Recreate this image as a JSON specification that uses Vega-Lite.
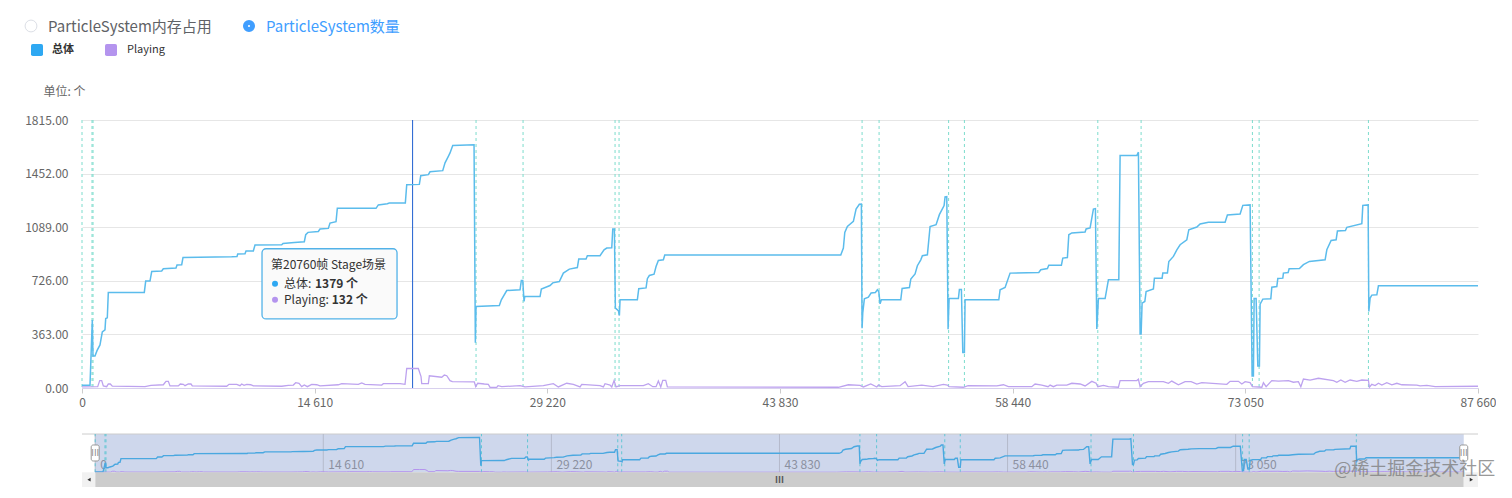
{
  "$schema": "https://vega.github.io/schema/vega-lite/v6.json",
  "padding": {"left": 23, "top": 0, "right": 0, "bottom": 0},
  "spacing": 0,
  "bounds": "flush",
  "config": {"view": {"stroke": null}, "font": "Noto Sans CJK SC"},
  "datasets": {
    "total": [
      {"frame":0,"count":18},{"frame":502,"count":18},{"frame":647,"count":461},{"frame":691,"count":217},{"frame":816,"count":217},{"frame":942,"count":253},{"frame":1130,"count":292},{"frame":1275,"count":380},{"frame":1444,"count":394},{"frame":1488,"count":470},{"frame":1589,"count":475},{"frame":1652,"count":647},{"frame":3912,"count":647},{"frame":4000,"count":724},{"frame":4270,"count":724},{"frame":4377,"count":789},{"frame":5005,"count":792},{"frame":5106,"count":807},{"frame":5903,"count":812},{"frame":5966,"count":833},{"frame":6261,"count":835},{"frame":6343,"count":884},{"frame":9401,"count":889},{"frame":9734,"count":891},{"frame":9778,"count":907},{"frame":10236,"count":909},{"frame":10299,"count":928},{"frame":10758,"count":928},{"frame":10864,"count":968},{"frame":12541,"count":970},{"frame":12623,"count":979},{"frame":13332,"count":986},{"frame":13960,"count":991},{"frame":14048,"count":1038},{"frame":14193,"count":1054},{"frame":14840,"count":1060},{"frame":14946,"count":1077},{"frame":15468,"count":1081},{"frame":15574,"count":1117},{"frame":15951,"count":1126},{"frame":16033,"count":1217},{"frame":18463,"count":1217},{"frame":18607,"count":1240},{"frame":19173,"count":1248},{"frame":19298,"count":1253},{"frame":20303,"count":1253},{"frame":20391,"count":1377},{"frame":21183,"count":1379},{"frame":21271,"count":1438},{"frame":21748,"count":1445},{"frame":21854,"count":1464},{"frame":22652,"count":1472},{"frame":22796,"count":1525},{"frame":23004,"count":1569},{"frame":23110,"count":1592},{"frame":23280,"count":1642},{"frame":24618,"count":1647},{"frame":24700,"count":307},{"frame":24743,"count":552},{"frame":26206,"count":558},{"frame":26332,"count":597},{"frame":26671,"count":660},{"frame":27506,"count":665},{"frame":27588,"count":728},{"frame":27676,"count":728},{"frame":27758,"count":586},{"frame":27802,"count":619},{"frame":28762,"count":619},{"frame":28844,"count":670},{"frame":29390,"count":694},{"frame":29560,"count":712},{"frame":29974,"count":721},{"frame":30226,"count":778},{"frame":30602,"count":805},{"frame":31105,"count":816},{"frame":31193,"count":873},{"frame":31651,"count":873},{"frame":31733,"count":896},{"frame":32530,"count":896},{"frame":32782,"count":936},{"frame":32952,"count":948},{"frame":33266,"count":950},{"frame":33329,"count":1077},{"frame":33430,"count":1077},{"frame":33493,"count":541},{"frame":33681,"count":524},{"frame":33744,"count":491},{"frame":33786,"count":597},{"frame":34873,"count":597},{"frame":34961,"count":672},{"frame":35419,"count":678},{"frame":35501,"count":740},{"frame":35626,"count":762},{"frame":35922,"count":771},{"frame":36047,"count":823},{"frame":36192,"count":864},{"frame":36506,"count":868},{"frame":36594,"count":900},{"frame":47646,"count":900},{"frame":47810,"count":948},{"frame":47898,"count":1054},{"frame":48061,"count":1094},{"frame":48438,"count":1128},{"frame":48607,"count":1212},{"frame":48814,"count":1244},{"frame":48940,"count":1246},{"frame":48984,"count":405},{"frame":49028,"count":511},{"frame":49128,"count":604},{"frame":49380,"count":615},{"frame":49549,"count":643},{"frame":49819,"count":647},{"frame":49945,"count":665},{"frame":50033,"count":653},{"frame":50114,"count":570},{"frame":50196,"count":597},{"frame":51414,"count":597},{"frame":51498,"count":674},{"frame":51956,"count":680},{"frame":52044,"count":738},{"frame":52312,"count":773},{"frame":52456,"count":828},{"frame":52670,"count":868},{"frame":52771,"count":896},{"frame":53085,"count":902},{"frame":53254,"count":1094},{"frame":53631,"count":1106},{"frame":53838,"count":1174},{"frame":54134,"count":1235},{"frame":54196,"count":1294},{"frame":54303,"count":1296},{"frame":54385,"count":398},{"frame":54448,"count":606},{"frame":55032,"count":606},{"frame":55095,"count":667},{"frame":55221,"count":667},{"frame":55309,"count":240},{"frame":55410,"count":240},{"frame":55452,"count":597},{"frame":57569,"count":597},{"frame":57650,"count":665},{"frame":57964,"count":681},{"frame":58278,"count":778},{"frame":60081,"count":782},{"frame":60206,"count":801},{"frame":60621,"count":809},{"frame":60709,"count":832},{"frame":61500,"count":832},{"frame":61588,"count":880},{"frame":61877,"count":884},{"frame":61965,"count":1038},{"frame":62153,"count":1050},{"frame":62988,"count":1056},{"frame":63051,"count":1077},{"frame":63302,"count":1084},{"frame":63510,"count":1212},{"frame":63636,"count":1215},{"frame":63724,"count":400},{"frame":63824,"count":606},{"frame":64244,"count":606},{"frame":64452,"count":733},{"frame":65105,"count":733},{"frame":65186,"count":1574},{"frame":66235,"count":1574},{"frame":66336,"count":1597},{"frame":66442,"count":366},{"frame":66505,"count":366},{"frame":66568,"count":575},{"frame":66738,"count":586},{"frame":66819,"count":653},{"frame":67277,"count":670},{"frame":67340,"count":744},{"frame":67824,"count":744},{"frame":67868,"count":778},{"frame":68157,"count":778},{"frame":68245,"count":857},{"frame":68534,"count":891},{"frame":68748,"count":936},{"frame":68955,"count":970},{"frame":69376,"count":1004},{"frame":69501,"count":1072},{"frame":70004,"count":1090},{"frame":70211,"count":1111},{"frame":70733,"count":1122},{"frame":71780,"count":1122},{"frame":71924,"count":1172},{"frame":72722,"count":1178},{"frame":72892,"count":1237},{"frame":73350,"count":1240},{"frame":73476,"count":81},{"frame":73558,"count":81},{"frame":73602,"count":606},{"frame":73727,"count":606},{"frame":73834,"count":149},{"frame":73934,"count":149},{"frame":73978,"count":568},{"frame":74148,"count":602},{"frame":74650,"count":604},{"frame":74713,"count":683},{"frame":75027,"count":687},{"frame":75090,"count":742},{"frame":75404,"count":744},{"frame":75442,"count":778},{"frame":75737,"count":782},{"frame":75800,"count":807},{"frame":76447,"count":809},{"frame":76698,"count":835},{"frame":77075,"count":857},{"frame":78060,"count":868},{"frame":78167,"count":936},{"frame":78437,"count":999},{"frame":78751,"count":1004},{"frame":78833,"count":1063},{"frame":79335,"count":1067},{"frame":79423,"count":1088},{"frame":80365,"count":1113},{"frame":80428,"count":1237},{"frame":80761,"count":1240},{"frame":80805,"count":518},{"frame":80886,"count":609},{"frame":80993,"count":629},{"frame":81307,"count":631},{"frame":81408,"count":692},{"frame":87660,"count":692}
    ],
    "playing": [
      {"frame":0,"count":7},{"frame":986,"count":9},{"frame":1112,"count":50},{"frame":1237,"count":50},{"frame":1338,"count":14},{"frame":1551,"count":9},{"frame":1652,"count":27},{"frame":1777,"count":27},{"frame":1903,"count":12},{"frame":3956,"count":9},{"frame":4333,"count":18},{"frame":5106,"count":22},{"frame":5275,"count":45},{"frame":5420,"count":45},{"frame":5526,"count":14},{"frame":6048,"count":14},{"frame":6173,"count":27},{"frame":6362,"count":25},{"frame":6468,"count":16},{"frame":6676,"count":27},{"frame":6845,"count":27},{"frame":6927,"count":14},{"frame":9087,"count":12},{"frame":9232,"count":25},{"frame":9715,"count":25},{"frame":9922,"count":16},{"frame":10029,"count":27},{"frame":10174,"count":18},{"frame":10343,"count":25},{"frame":10594,"count":22},{"frame":10758,"count":14},{"frame":12541,"count":12},{"frame":12956,"count":18},{"frame":13270,"count":20},{"frame":13420,"count":36},{"frame":13628,"count":32},{"frame":13797,"count":9},{"frame":13960,"count":20},{"frame":14148,"count":9},{"frame":14425,"count":25},{"frame":14739,"count":22},{"frame":14946,"count":14},{"frame":16095,"count":22},{"frame":16309,"count":29},{"frame":17352,"count":25},{"frame":17565,"count":34},{"frame":17772,"count":25},{"frame":18821,"count":20},{"frame":18922,"count":29},{"frame":19970,"count":29},{"frame":20284,"count":25},{"frame":20391,"count":132},{"frame":20760,"count":132},{"frame":21119,"count":132},{"frame":21289,"count":77},{"frame":21333,"count":29},{"frame":21748,"count":29},{"frame":21811,"count":83},{"frame":22590,"count":73},{"frame":22753,"count":88},{"frame":22904,"count":83},{"frame":23110,"count":50},{"frame":23255,"count":43},{"frame":24636,"count":41},{"frame":24724,"count":9},{"frame":24850,"count":32},{"frame":25264,"count":27},{"frame":25516,"count":25},{"frame":25622,"count":5},{"frame":26043,"count":4},{"frame":26125,"count":16},{"frame":26357,"count":9},{"frame":27506,"count":16},{"frame":27820,"count":7},{"frame":28969,"count":16},{"frame":29597,"count":29},{"frame":29911,"count":7},{"frame":30439,"count":32},{"frame":30853,"count":25},{"frame":31274,"count":7},{"frame":31381,"count":25},{"frame":32530,"count":16},{"frame":32738,"count":7},{"frame":32844,"count":29},{"frame":33158,"count":20},{"frame":33266,"count":7},{"frame":33410,"count":50},{"frame":33535,"count":7},{"frame":33786,"count":16},{"frame":35250,"count":16},{"frame":35564,"count":29},{"frame":35840,"count":9},{"frame":36047,"count":9},{"frame":36192,"count":47},{"frame":36342,"count":7},{"frame":36468,"count":52},{"frame":36656,"count":52},{"frame":36757,"count":7},{"frame":47496,"count":5},{"frame":48124,"count":22},{"frame":48858,"count":18},{"frame":49066,"count":7},{"frame":49530,"count":27},{"frame":49907,"count":7},{"frame":50008,"count":20},{"frame":50221,"count":9},{"frame":51370,"count":16},{"frame":51684,"count":43},{"frame":51873,"count":9},{"frame":52733,"count":20},{"frame":53443,"count":9},{"frame":54088,"count":25},{"frame":54339,"count":20},{"frame":54448,"count":9},{"frame":55346,"count":5},{"frame":55641,"count":16},{"frame":57443,"count":14},{"frame":57858,"count":22},{"frame":58172,"count":9},{"frame":59641,"count":9},{"frame":59848,"count":27},{"frame":60269,"count":20},{"frame":60665,"count":9},{"frame":60790,"count":20},{"frame":60998,"count":9},{"frame":61211,"count":20},{"frame":61839,"count":20},{"frame":62153,"count":32},{"frame":62674,"count":27},{"frame":62988,"count":14},{"frame":63410,"count":45},{"frame":63680,"count":32},{"frame":63786,"count":9},{"frame":64138,"count":18},{"frame":64452,"count":9},{"frame":65080,"count":5},{"frame":65186,"count":50},{"frame":66235,"count":50},{"frame":66336,"count":59},{"frame":66442,"count":9},{"frame":66650,"count":32},{"frame":66964,"count":43},{"frame":67905,"count":43},{"frame":68219,"count":32},{"frame":68432,"count":47},{"frame":68847,"count":22},{"frame":69268,"count":43},{"frame":69645,"count":43},{"frame":70004,"count":27},{"frame":70318,"count":36},{"frame":71887,"count":25},{"frame":72094,"count":45},{"frame":72616,"count":45},{"frame":72830,"count":27},{"frame":73037,"count":43},{"frame":73350,"count":36},{"frame":73495,"count":9},{"frame":74086,"count":5},{"frame":74186,"count":36},{"frame":74355,"count":9},{"frame":74713,"count":50},{"frame":75128,"count":47},{"frame":75756,"count":50},{"frame":76070,"count":39},{"frame":76384,"count":43},{"frame":76535,"count":9},{"frame":76698,"count":61},{"frame":77118,"count":54},{"frame":77639,"count":66},{"frame":78582,"count":50},{"frame":78795,"count":39},{"frame":79046,"count":54},{"frame":79316,"count":39},{"frame":79630,"count":54},{"frame":80051,"count":45},{"frame":80365,"count":54},{"frame":80780,"count":52},{"frame":80842,"count":5},{"frame":80993,"count":25},{"frame":81200,"count":16},{"frame":81408,"count":32},{"frame":81621,"count":20},{"frame":81935,"count":36},{"frame":82249,"count":22},{"frame":82563,"count":32},{"frame":82877,"count":22},{"frame":83820,"count":20},{"frame":84027,"count":14},{"frame":84448,"count":18},{"frame":84969,"count":9},{"frame":87660,"count":12}
    ],
    "scenes": [
      {"frame":0},{"frame":628},{"frame":691},{"frame":24743},{"frame":27695},{"frame":33472},{"frame":33724},{"frame":48984},{"frame":50052},{"frame":54418},{"frame":55410},{"frame":63786},{"frame":66505},{"frame":73495},{"frame":73916},{"frame":80780}
    ],
    "ticks": [
      {"frame":0,"label":"0"},{"frame":14610,"label":"14 610"},{"frame":29220,"label":"29 220"},{"frame":43830,"label":"43 830"},{"frame":58440,"label":"58 440"},{"frame":73050,"label":"73 050"}
    ],
    "hover": [{"frame":20760,"scene":"Stage场景","total":1379,"playing":132}],
    "one": [{"part":"zoom"}]
  },
  "vconcat": [
    {
      "width": 1396,
      "height": 38,
      "data": {"values": [{"mode":"ParticleSystem内存占用","on":false},{"mode":"ParticleSystem数量","on":true}]},
      "encoding": {
        "x": {"field":"mode","type":"nominal","axis":null,"scale":{"type":"point","padding":0,"domain":["ParticleSystem内存占用","ParticleSystem数量"],"range":[-51,167]}},
        "y": {"value":26}
      },
      "layer": [
        {
          "mark": {"type":"point","filled":false,"fill":"#ffffff","opacity":1},
          "encoding": {
            "size": {"condition":{"test":"datum.on","value":50},"value":140},
            "stroke": {"condition":{"test":"datum.on","value":"#409eff"},"value":"#dcdfe6"},
            "strokeWidth": {"condition":{"test":"datum.on","value":5},"value":1}
          }
        },
        {
          "mark": {"type":"text","align":"left","baseline":"middle","dx":17,"dy":1,"fontSize":15},
          "encoding": {
            "text": {"field":"mode"},
            "color": {"condition":{"test":"datum.on","value":"#409eff"},"value":"#606266"}
          }
        }
      ]
    },
    {
      "width": 1396,
      "height": 82,
      "data": {"values": [{"series":"总体"},{"series":"Playing"}]},
      "encoding": {
        "x": {"field":"series","type":"nominal","axis":null,"scale":{"type":"point","padding":0,"domain":["总体","Playing"],"range":[-45,29]}},
        "y": {"value":12}
      },
      "layer": [
        {
          "mark": {"type":"point","filled":true,"opacity":1,"size":144,"shape":"M-0.7,-1H0.7Q1,-1 1,-0.7V0.7Q1,1 0.7,1H-0.7Q-1,1 -1,0.7V-0.7Q-1,-1 -0.7,-1Z"},
          "encoding": {
            "color": {"field":"series","legend":null,"scale":{"domain":["总体","Playing"],"range":["#2ea8f2","#b494ee"]}}
          }
        },
        {
          "transform": [{"filter":"datum.series == '总体'"}],
          "mark": {"type":"text","align":"left","baseline":"middle","dx":15,"fontSize":11,"fontWeight":"bold","color":"#333333"},
          "encoding": {"text": {"field":"series"}}
        },
        {
          "transform": [{"filter":"datum.series == 'Playing'"}],
          "mark": {"type":"text","align":"left","baseline":"middle","dx":16,"fontSize":11,"color":"#333333"},
          "encoding": {"text": {"field":"series"}}
        }
      ]
    },
    {
      "width": 1396,
      "height": 268,
      "encoding": {
        "x": {
          "type": "quantitative",
          "scale": {"domain":[0,87660],"nice":false,"zero":false},
          "axis": {"values":[0,14610,29220,43830,58440,73050,87660],"title":null,"grid":false,"domainColor":"#d8d0ee","tickColor":"#cccccc","tickSize":5,"labelColor":"#666666","labelFontSize":12,"labelPadding":4,"labelBound":false,"labelFlush":false,"labelExpr":"replace(format(datum.value, ','), ',', ' ')"}
        },
        "y": {
          "type": "quantitative",
          "scale": {"domain":[0,1815],"nice":false},
          "axis": {"values":[0,363,726,1089,1452,1815],"format":".2f","title":"单位: 个","titleAngle":0,"titleX":-39,"titleY":-29,"titleAlign":"left","titleBaseline":"middle","titleFontWeight":"normal","titleFontSize":12,"titleColor":"#666666","grid":true,"gridColor":"#e6e6e6","domain":false,"ticks":false,"labelPadding":14,"labelColor":"#666666","labelFontSize":12}
        }
      },
      "layer": [
        {
          "data": {"name":"scenes"},
          "mark": {"type":"rule","color":"#7ddccd","strokeWidth":1,"strokeDash":[3,3]},
          "encoding": {"x":{"field":"frame","type":"quantitative"}}
        },
        {
          "data": {"name":"hover"},
          "mark": {"type":"rule","color":"#1f5fd0","strokeWidth":1},
          "encoding": {"x":{"field":"frame","type":"quantitative"}}
        },
        {
          "data": {"name":"playing"},
          "mark": {"type":"line","color":"#bda2ef","strokeWidth":1.3,"interpolate":"linear"},
          "encoding": {"x":{"field":"frame","type":"quantitative"},"y":{"field":"count","type":"quantitative"}}
        },
        {
          "data": {"name":"total"},
          "mark": {"type":"line","color":"#5bbcec","strokeWidth":1.5,"interpolate":"linear"},
          "encoding": {"x":{"field":"frame","type":"quantitative"},"y":{"field":"count","type":"quantitative"}}
        },
        {
          "data": {"name":"hover"},
          "mark": {"type":"rect","fill":"#fafafa","stroke":"#52b2e8","strokeWidth":1.3,"cornerRadius":4},
          "encoding": {"x":{"datum":11304},"x2":{"datum":19782},"y":{"datum":943},"y2":{"datum":468}}
        },
        {
          "data": {"name":"hover"},
          "mark": {"type":"text","align":"left","baseline":"middle","fontSize":12,"color":"#333333"},
          "encoding": {"x":{"datum":11869},"y":{"datum":835},"text":{"value":"第20760帧 Stage场景"}}
        },
        {
          "data": {"name":"hover"},
          "mark": {"type":"point","filled":true,"opacity":1,"size":36,"color":"#2ea8f2"},
          "encoding": {"x":{"datum":12120},"y":{"datum":706}}
        },
        {
          "data": {"name":"hover"},
          "mark": {"type":"point","filled":true,"opacity":1,"size":36,"color":"#b494ee"},
          "encoding": {"x":{"datum":12120},"y":{"datum":597}}
        },
        {
          "data": {"name":"hover"},
          "mark": {"type":"text","align":"left","baseline":"middle","fontSize":12,"color":"#333333"},
          "encoding": {"x":{"datum":12686},"y":{"datum":706},"text":{"value":"总体:"}}
        },
        {
          "data": {"name":"hover"},
          "mark": {"type":"text","align":"left","baseline":"middle","fontSize":12,"color":"#333333"},
          "encoding": {"x":{"datum":12686},"y":{"datum":597},"text":{"value":"Playing:"}}
        },
        {
          "data": {"name":"hover"},
          "mark": {"type":"text","align":"left","baseline":"middle","fontSize":12,"fontWeight":"bold","color":"#333333"},
          "encoding": {"x":{"datum":14632},"y":{"datum":706},"text":{"value":"1379 个"}}
        },
        {
          "data": {"name":"hover"},
          "mark": {"type":"text","align":"left","baseline":"middle","fontSize":12,"fontWeight":"bold","color":"#333333"},
          "encoding": {"x":{"datum":15681},"y":{"datum":597},"text":{"value":"132 个"}}
        }
      ]
    },
    {
      "width": 1396,
      "height": 99,
      "encoding": {
        "x": {"type":"quantitative","axis":null,"scale":{"domain":[-845,88573],"nice":false,"zero":false}},
        "y": {"type":"quantitative","axis":null,"scale":{"domain":[-697,3996],"nice":false,"zero":false}}
      },
      "layer": [
        {
          "data": {"name":"one"},
          "mark": {"type":"rect","fill":"#ced7ec"},
          "encoding": {"x":{"datum":0},"x2":{"datum":87660},"y":{"datum":0},"y2":{"datum":1815}}
        },
        {
          "data": {"name":"one"},
          "mark": {"type":"rule","color":"#cccccc"},
          "encoding": {"x":{"datum":-845},"x2":{"datum":88573},"y":{"datum":1815}}
        },
        {
          "data": {"name":"ticks"},
          "mark": {"type":"rule","color":"#b4bacb"},
          "encoding": {"x":{"field":"frame","type":"quantitative"},"y":{"datum":0},"y2":{"datum":1815}}
        },
        {
          "data": {"name":"ticks"},
          "mark": {"type":"text","align":"left","baseline":"middle","dx":5,"fontSize":12,"color":"#8b90a0"},
          "encoding": {"x":{"field":"frame","type":"quantitative"},"y":{"datum":346},"text":{"field":"label"}}
        },
        {
          "data": {"name":"scenes"},
          "mark": {"type":"rule","color":"#62c6d4","strokeWidth":1,"strokeDash":[3,3]},
          "encoding": {"x":{"field":"frame","type":"quantitative"},"y":{"datum":0},"y2":{"datum":1815}}
        },
        {
          "data": {"name":"playing"},
          "mark": {"type":"line","color":"#b494ee","strokeWidth":1},
          "encoding": {"x":{"field":"frame","type":"quantitative"},"y":{"field":"count","type":"quantitative"}}
        },
        {
          "data": {"name":"total"},
          "mark": {"type":"line","color":"#4aa8e0","strokeWidth":1.4},
          "encoding": {"x":{"field":"frame","type":"quantitative"},"y":{"field":"count","type":"quantitative"}}
        },
        {
          "data": {"name":"one"},
          "mark": {"type":"rect","fill":"#cccccc"},
          "encoding": {"x":{"datum":0},"x2":{"datum":87660},"y":{"datum":-697},"y2":{"datum":0}}
        },
        {
          "data": {"name":"one"},
          "mark": {"type":"rect","fill":"#f1f1f1"},
          "encoding": {"x":{"datum":-845},"x2":{"datum":0},"y":{"datum":-697},"y2":{"datum":0}}
        },
        {
          "data": {"name":"one"},
          "mark": {"type":"rect","fill":"#f1f1f1"},
          "encoding": {"x":{"datum":87660},"x2":{"datum":88573},"y":{"datum":-697},"y2":{"datum":0}}
        },
        {
          "data": {"name":"one"},
          "mark": {"type":"point","shape":"triangle-left","filled":true,"opacity":1,"size":14,"color":"#333333"},
          "encoding": {"x":{"datum":-397},"y":{"datum":-350}}
        },
        {
          "data": {"name":"one"},
          "mark": {"type":"point","shape":"triangle-right","filled":true,"opacity":1,"size":14,"color":"#333333"},
          "encoding": {"x":{"datum":88150},"y":{"datum":-350}}
        },
        {
          "data": {"name":"one"},
          "mark": {"type":"text","fontSize":9,"fontWeight":"bold","color":"#555555","baseline":"middle"},
          "encoding": {"x":{"datum":43830},"y":{"datum":-350},"text":{"value":"III"}}
        },
        {
          "data": {"name":"one"},
          "mark": {"type":"rect","fill":"#ffffff","stroke":"#999999","cornerRadius":2},
          "encoding": {"x":{"datum":-256},"x2":{"datum":256},"y":{"datum":536},"y2":{"datum":1294}}
        },
        {
          "data": {"name":"one"},
          "mark": {"type":"rect","fill":"#ffffff","stroke":"#999999","cornerRadius":2},
          "encoding": {"x":{"datum":87404},"x2":{"datum":87916},"y":{"datum":536},"y2":{"datum":1294}}
        },
        {
          "data": {"name":"one"},
          "mark": {"type":"text","fontSize":9,"color":"#888888","baseline":"middle"},
          "encoding": {"x":{"datum":0},"y":{"datum":915},"text":{"value":"III"}}
        },
        {
          "data": {"name":"one"},
          "mark": {"type":"text","fontSize":9,"color":"#888888","baseline":"middle"},
          "encoding": {"x":{"datum":87660},"y":{"datum":915},"text":{"value":"III"}}
        },
        {
          "data": {"name":"one"},
          "mark": {"type":"text","align":"left","baseline":"middle","fontSize":18,"color":"#808080","opacity":0.8},
          "encoding": {"x":{"datum":79360},"y":{"datum":109},"text":{"value":"@稀土掘金技术社区"}}
        }
      ]
    }
  ]
}
